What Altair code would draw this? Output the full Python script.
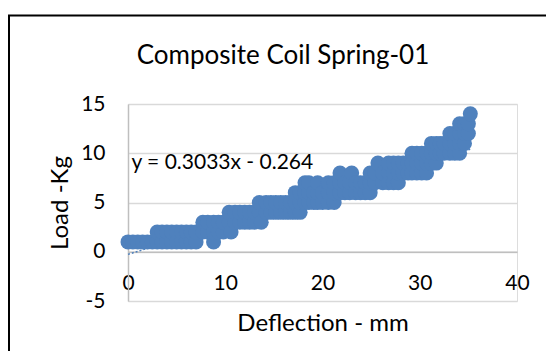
import altair as alt
import pandas as pd

# Data (deflection in mm, load in kg)
deflection = [
    0.0, 0.5, 1.0, 1.5, 2.0, 2.5,
    3.0, 3.0, 3.5, 3.5, 4.0, 4.0, 4.5, 4.5, 5.0, 5.0, 5.5, 5.5, 6.0, 6.0, 6.5, 6.5, 7.0, 7.0,
    7.7, 7.7, 8.2, 8.2, 8.8, 8.8, 8.8, 9.3, 9.3, 9.8, 9.8,
    10.4, 10.4, 10.6, 11.0, 11.0, 11.5, 11.5, 12.0, 12.0, 12.5, 12.5, 13.0, 13.0,
    13.5, 13.5, 13.7, 14.2, 14.2, 14.7, 14.7, 15.2, 15.2, 15.7, 15.7, 16.2, 16.2, 16.7, 16.7,
    17.2, 17.2, 17.2, 17.7, 17.7, 17.7, 18.2, 18.2, 18.2, 18.6, 18.6, 18.6, 19.1, 19.1,
    19.5, 19.5, 19.5, 20.0, 20.0, 20.6, 20.6, 20.6, 21.2, 21.2, 21.2,
    21.8, 21.8, 21.8, 22.3, 22.3, 22.8, 22.8, 23.0, 23.4, 23.4, 23.9, 23.9, 24.4, 24.4,
    24.9, 24.9, 24.9, 25.4, 25.4, 25.7, 26.2, 26.2, 26.8, 26.8, 26.8, 27.3, 27.3, 27.3,
    27.8, 27.8, 27.8, 28.3, 28.3, 28.8, 28.8,
    29.2, 29.2, 29.2, 29.7, 29.7, 29.7, 30.2, 30.2, 30.2, 30.7, 30.7, 30.7,
    31.2, 31.2, 31.2, 31.7, 31.7, 31.7, 32.1, 32.1, 32.5, 32.5,
    33.1, 33.1, 33.1, 33.6, 33.6, 33.6, 34.1, 34.1, 34.1, 34.1, 34.6, 34.6, 34.6,
    35.0, 35.0, 35.2,
]
load = [
    1, 1, 1, 1, 1, 1,
    1, 2, 1, 2, 1, 2, 1, 2, 1, 2, 1, 2, 1, 2, 1, 2, 1, 2,
    2, 3, 2, 3, 1, 2, 3, 2, 3, 2, 3,
    3, 4, 2, 3, 4, 3, 4, 3, 4, 3, 4, 3, 4,
    4, 5, 3, 4, 5, 4, 5, 4, 5, 4, 5, 4, 5, 4, 5,
    4, 5, 6, 4, 5, 6, 5, 6, 7, 5, 6, 7, 5, 6,
    5, 6, 7, 5, 6, 5, 6, 7, 5, 6, 7,
    6, 7, 8, 6, 7, 6, 7, 8, 6, 7, 6, 7, 6, 7,
    6, 7, 8, 7, 8, 9, 7, 8, 7, 8, 9, 7, 8, 9,
    7, 8, 9, 8, 9, 8, 9,
    8, 9, 10, 8, 9, 10, 8, 9, 10, 8, 9, 10,
    9, 10, 11, 9, 10, 11, 10, 11, 10, 11,
    10, 11, 12, 10, 11, 12, 10, 11, 12, 13, 11, 12, 13,
    12, 13, 14,
]

# Linear trendline endpoints (y = 0.3033x - 0.264)
trend_x = [0.0, 35.2]
trend_y = [-0.264, 10.41]

eq_label = ["y = 0.3033x - 0.264"]
eq_x = [0.35]
eq_y = [9.0]

chart_title = ["Composite Coil Spring-01"]

x_ticks = [0, 10, 20, 30, 40]
y_ticks = [-5, 0, 5, 10, 15]

FONT = "Lato"
BLUE = "#4F81BD"
W, H = 389, 197

pts = pd.DataFrame({"x": deflection, "y": load})
trend = pd.DataFrame({"x": trend_x, "y": trend_y})
eq = pd.DataFrame({"x": eq_x, "y": eq_y, "t": eq_label})
ttl = pd.DataFrame({"t": chart_title})

xscale = alt.Scale(domain=[0, 40], nice=False, zero=False)
yscale = alt.Scale(domain=[-5, 15], nice=False, zero=False)

xaxis = alt.Axis(
    title="Deflection - mm", values=x_ticks, grid=False, ticks=False,
    domainColor="#BFBFBF", domainWidth=1.5, offset=-49.25,
    labelFontSize=21, labelFont=FONT, labelColor="black", labelPadding=21,
    labelFlush=False, labelExpr="'' + datum.value",
    titleFontSize=24, titleFont=FONT, titleFontWeight="normal", titleColor="black",
    titleY=72, titleBaseline="middle",
)
yaxis = alt.Axis(
    title="Load -Kg", values=y_ticks, grid=True, gridColor="#D9D9D9", gridWidth=1.5,
    ticks=False, domainColor="#BFBFBF", domainWidth=1.5,
    labelFontSize=21, labelFont=FONT, labelColor="black", labelPadding=23,
    labelExpr="'' + datum.value",
    titleFontSize=24, titleFont=FONT, titleFontWeight="normal", titleColor="black",
    titleX=-68, titleY=H / 2, titleBaseline="middle", titleAlign="center", titleAngle=-90,
)

base_line = alt.Chart(trend).mark_line(
    color=BLUE, strokeDash=[2, 2], strokeWidth=1.5
).encode(
    x=alt.X("x:Q", scale=xscale, axis=xaxis),
    y=alt.Y("y:Q", scale=yscale, axis=yaxis),
)

points = alt.Chart(pts).mark_circle(color=BLUE, size=225, opacity=1).encode(
    x=alt.X("x:Q", scale=xscale),
    y=alt.Y("y:Q", scale=yscale),
)

eq_text = alt.Chart(eq).mark_text(
    align="left", baseline="middle", font=FONT, fontSize=21, color="black"
).encode(
    x=alt.X("x:Q", scale=xscale),
    y=alt.Y("y:Q", scale=yscale),
    text="t:N",
)

title_text = alt.Chart(ttl).mark_text(
    align="center", baseline="alphabetic", font=FONT, fontSize=26, color="black"
).encode(
    x=alt.value(155), y=alt.value(-40), text="t:N",
)

border = alt.Chart(pd.DataFrame({"a": [0]})).mark_rect(
    filled=False, stroke="black", strokeWidth=2
).encode(
    x=alt.value(-119), x2=alt.value(W + 80),
    y=alt.value(-88.5), y2=alt.value(H + 120),
)

chart = alt.layer(base_line, points, eq_text, title_text, border).properties(
    width=W, height=H,
    autosize=alt.AutoSizeParams(type="none"),
    padding={"left": 120, "top": 96, "right": 29, "bottom": 50},
).configure_view(stroke=None).configure(background="white")

chart.save("out.html", embed_options={"renderer": "svg", "actions": False})
